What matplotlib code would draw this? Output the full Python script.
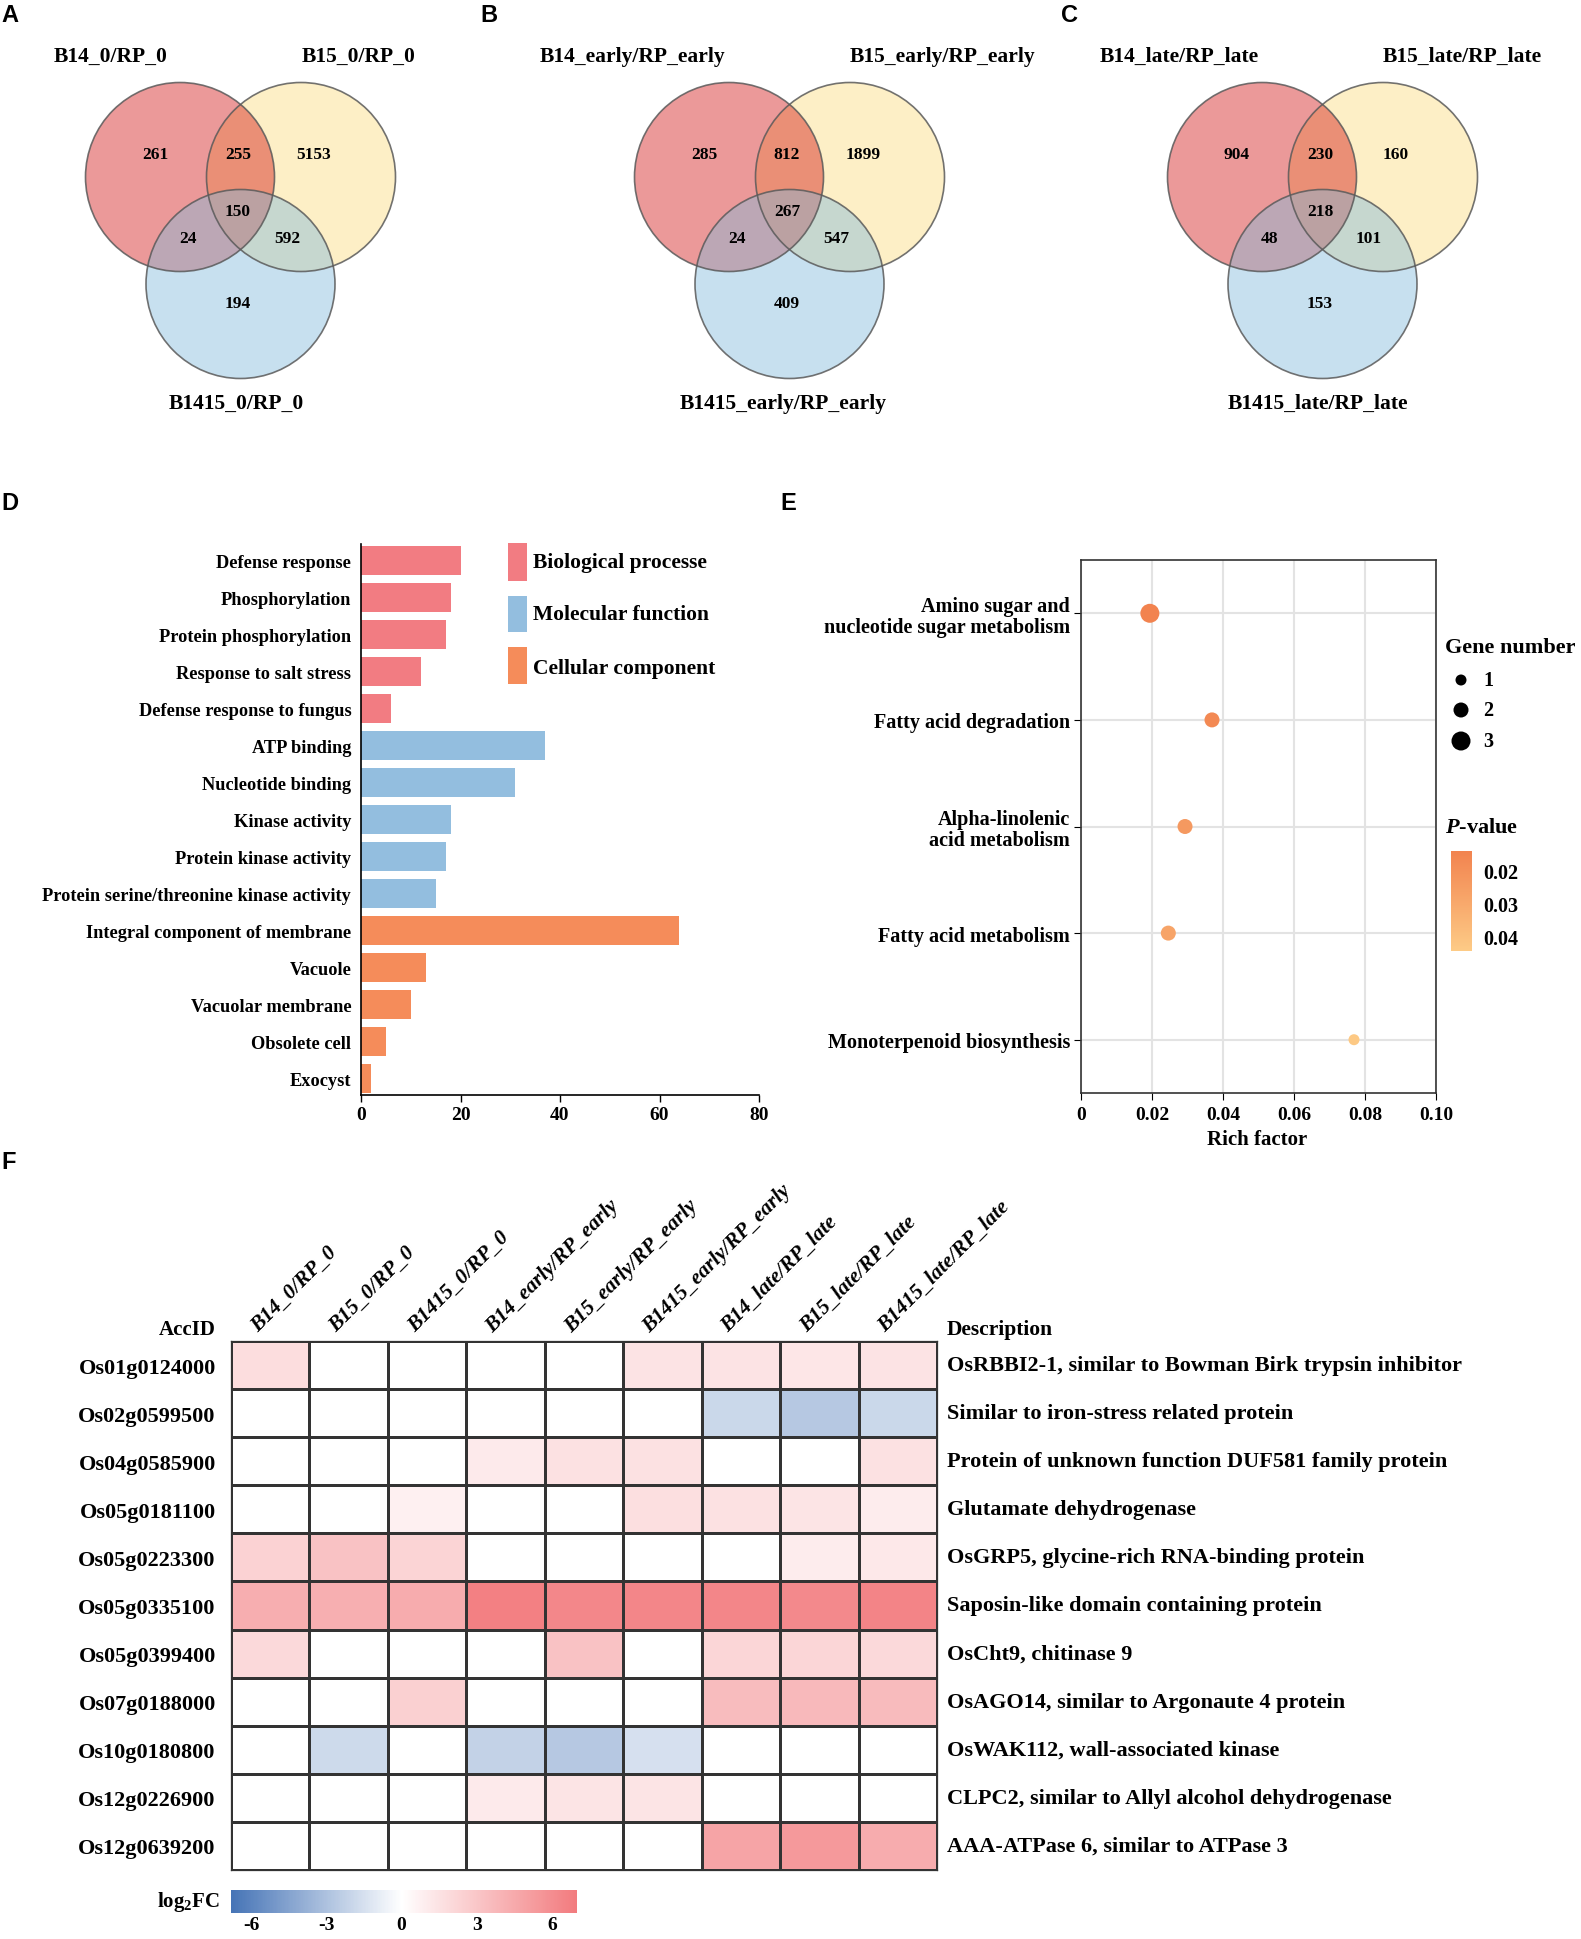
import numpy as np
import matplotlib
matplotlib.use("Agg")
import matplotlib.pyplot as plt
from matplotlib.patches import Circle, Rectangle
from matplotlib.colors import LinearSegmentedColormap, Normalize
from matplotlib.cm import ScalarMappable
from matplotlib.font_manager import FontProperties

plt.rcParams['font.family'] = ['Liberation Serif', 'DejaVu Serif']
plt.rcParams['font.weight'] = 'bold'
plt.rcParams['mathtext.fontset'] = 'custom'
plt.rcParams['mathtext.rm'] = 'Liberation Serif:bold'
plt.rcParams['mathtext.bf'] = 'Liberation Serif:bold'
plt.rcParams['mathtext.it'] = 'Liberation Serif:italic:bold'

# ---------------- data ----------------
venn_names_A = ["B14_0/RP_0", "B15_0/RP_0", "B1415_0/RP_0"]
venn_names_B = ["B14_early/RP_early", "B15_early/RP_early", "B1415_early/RP_early"]
venn_names_C = ["B14_late/RP_late", "B15_late/RP_late", "B1415_late/RP_late"]
# order: only1, 1&2, only2, 1&2&3, 1&3, 2&3, only3
venn_counts_A = [261, 255, 5153, 150, 24, 592, 194]
venn_counts_B = [285, 812, 1899, 267, 24, 547, 409]
venn_counts_C = [904, 230, 160, 218, 48, 101, 153]

go_terms = ["Defense response", "Phosphorylation", "Protein phosphorylation",
            "Response to salt stress", "Defense response to fungus",
            "ATP binding", "Nucleotide binding", "Kinase activity",
            "Protein kinase activity", "Protein serine/threonine kinase activity",
            "Integral component of membrane", "Vacuole", "Vacuolar membrane",
            "Obsolete cell", "Exocyst"]
go_counts = [20, 18, 17, 12, 6, 37, 31, 18, 17, 15, 64, 13, 10, 5, 2]
go_category = ["Biological processe"] * 5 + ["Molecular function"] * 5 + ["Cellular component"] * 5
go_category_names = ["Biological processe", "Molecular function", "Cellular component"]

kegg_terms = ["Amino sugar and\nnucleotide sugar metabolism", "Fatty acid degradation",
              "Alpha-linolenic\nacid metabolism", "Fatty acid metabolism",
              "Monoterpenoid biosynthesis"]
rich_factor = [0.0194, 0.0369, 0.0293, 0.0246, 0.0769]
gene_number = [3, 2, 2, 2, 1]
p_values = [0.0142, 0.0165, 0.0235, 0.0280, 0.0435]
gene_number_legend = [1, 2, 3]
p_ticks = [0.02, 0.03, 0.04]

acc_ids = ["Os01g0124000", "Os02g0599500", "Os04g0585900", "Os05g0181100",
           "Os05g0223300", "Os05g0335100", "Os05g0399400", "Os07g0188000",
           "Os10g0180800", "Os12g0226900", "Os12g0639200"]
comparisons = ["B14_0/RP_0", "B15_0/RP_0", "B1415_0/RP_0",
               "B14_early/RP_early", "B15_early/RP_early", "B1415_early/RP_early",
               "B14_late/RP_late", "B15_late/RP_late", "B1415_late/RP_late"]
descriptions = ["OsRBBI2-1, similar to Bowman Birk trypsin inhibitor",
                "Similar to iron-stress related protein",
                "Protein of unknown function DUF581 family protein",
                "Glutamate dehydrogenase",
                "OsGRP5, glycine-rich RNA-binding protein",
                "Saposin-like domain containing protein",
                "OsCht9, chitinase 9",
                "OsAGO14, similar to Argonaute 4 protein",
                "OsWAK112, wall-associated kinase",
                "CLPC2, similar to Allyl alcohol dehydrogenase",
                "AAA-ATPase 6, similar to ATPase 3"]
log2fc = np.array([
    [1.8, 0, 0, 0, 0, 1.5, 1.5, 1.3, 1.5],
    [0, 0, 0, 0, 0, 0, -1.9, -2.7, -1.9],
    [0, 0, 0, 1.1, 1.6, 1.6, 0, 0, 1.6],
    [0, 0, 0.8, 0, 0, 1.7, 1.6, 1.4, 1.0],
    [2.4, 3.2, 2.3, 0, 0, 0, 0, 1.0, 1.2],
    [4.3, 4.2, 4.4, 6.7, 6.3, 6.4, 6.4, 6.2, 6.5],
    [2.0, 0, 0, 0, 3.2, 0, 2.2, 2.2, 2.0],
    [0, 0, 2.5, 0, 0, 0, 3.5, 3.7, 3.6],
    [0, -1.8, 0, -2.2, -2.7, -1.5, 0, 0, 0],
    [0, 0, 0, 1.1, 1.4, 1.4, 0, 0, 0],
    [0, 0, 0, 0, 0, 0, 4.8, 5.4, 4.4],
])
fc_ticks = [-6, -3, 0, 3, 6]

# ---------------- figure ----------------
W, H = 1581, 1940
fig = plt.figure(figsize=(W / 100, H / 100), dpi=100)


def rect(x0, y0, x1, y1):
    return [x0 / W, 1 - y1 / H, (x1 - x0) / W, (y1 - y0) / H]


ax0 = fig.add_axes([0, 0, 1, 1])
ax0.set_xlim(0, W)
ax0.set_ylim(H, 0)
ax0.axis('off')

# panel letters
for letter, (x, y) in zip("ABCDEF", [(10, 16), (489, 16), (1069, 16), (10, 504), (788, 504), (9, 1163)]):
    ax0.text(x, y, letter, family='Liberation Sans', weight='bold', fontsize=17,
             ha='center', va='center')

# ---------------- Venn diagrams ----------------
R = 94.5
num_off = [(-25, -23), (58, -23), (134, -23), (58, 34), (8, 61), (107, 61), (58, 126)]
venn_panels = [
    (venn_names_A, venn_counts_A, 180, [111, 359, 236]),
    (venn_names_B, venn_counts_B, 729, [632, 942, 783]),
    (venn_names_C, venn_counts_C, 1262, [1179, 1462, 1318]),
]
cy = 178
for names, counts, cx, lx in venn_panels:
    centers = [(cx, cy), (cx + 121, cy), (cx + 60.5, cy + 107)]
    ax0.add_patch(Circle(centers[1], R, facecolor='#FDEFC6', edgecolor='none', zorder=1))
    ax0.add_patch(Circle(centers[0], R, facecolor='#CF0000', alpha=0.4, edgecolor='none', zorder=2))
    ax0.add_patch(Circle(centers[2], R, facecolor='#80B9DB', alpha=0.44, edgecolor='none', zorder=3))
    for c in centers:
        ax0.add_patch(Circle(c, R, facecolor='none', edgecolor='#5a5a5a', lw=1.2, alpha=0.85, zorder=4))
    for val, (dx, dy) in zip(counts, num_off):
        ax0.text(cx + dx, cy + dy, str(val), fontsize=12.5, weight='bold',
                 ha='center', va='center', zorder=5)
    ax0.text(lx[0], 57, names[0], fontsize=15.5, weight='bold', ha='center', va='center')
    ax0.text(lx[1], 57, names[1], fontsize=15.5, weight='bold', ha='center', va='center')
    ax0.text(lx[2], 404, names[2], fontsize=15.5, weight='bold', ha='center', va='center')

# ---------------- Panel D ----------------
cat_colors = {"Biological processe": "#F27C82", "Molecular function": "#93BEDF",
              "Cellular component": "#F58C5A"}
axD = fig.add_axes(rect(361, 545, 759, 1096))
axD.patch.set_visible(False)
ypos = np.arange(len(go_terms))
axD.barh(ypos, go_counts, height=0.79, color=[cat_colors[c] for c in go_category])
axD.set_xlim(0, 80)
axD.set_ylim(len(go_terms) - 0.55, -0.45)
axD.set_yticks(ypos)
axD.set_yticklabels(go_terms, fontsize=13.2, weight='bold')
axD.tick_params(axis='y', length=0, pad=7)
axD.set_xticks([0, 20, 40, 60, 80])
axD.tick_params(axis='x', labelsize=14, length=5, width=1, pad=3)
for t in axD.get_xticklabels():
    t.set_weight('bold')
for s in ['top', 'right']:
    axD.spines[s].set_visible(False)
for s in ['left', 'bottom']:
    axD.spines[s].set_linewidth(1.2)
# legend D
leg_y = [(544, 582), (597, 633), (648, 685)]
leg_ty = [563, 615, 669]
for name, (y0, y1), ty in zip(go_category_names, leg_y, leg_ty):
    ax0.add_patch(Rectangle((508, y0), 19, y1 - y0, facecolor=cat_colors[name], edgecolor='none'))
    ax0.text(533, ty, name, fontsize=15.5, weight='bold', ha='left', va='center')

# ---------------- Panel E ----------------
pcmap = LinearSegmentedColormap.from_list('pv', ['#F2834F', '#FDCB86'])
pnorm = Normalize(0.014, 0.0445)


def dot_size(n):
    return ((7 + 4 * n) * 0.72) ** 2


axE = fig.add_axes(rect(1081, 561, 1436, 1094))
axE.set_xlim(0, 0.1)
axE.set_ylim(len(kegg_terms) - 0.5, -0.5)
axE.set_xticks([0, 0.02, 0.04, 0.06, 0.08, 0.10])
axE.set_xticklabels(['0', '0.02', '0.04', '0.06', '0.08', '0.10'])
axE.set_yticks(np.arange(len(kegg_terms)))
axE.set_yticklabels(kegg_terms, fontsize=14.5, weight='bold', linespacing=1.05)
axE.grid(True, color='#E3E3E3', lw=1.5, zorder=0)
axE.set_axisbelow(True)
axE.scatter(rich_factor, np.arange(len(kegg_terms)), s=[dot_size(n) for n in gene_number],
            c=p_values, cmap=pcmap, norm=pnorm, edgecolors='none', zorder=3)
axE.tick_params(axis='x', labelsize=14, length=5, pad=4)
axE.tick_params(axis='y', length=5, pad=3)
for t in axE.get_xticklabels():
    t.set_weight('bold')
for s in axE.spines.values():
    s.set_color('#333333')
    s.set_linewidth(1.2)
ax0.text(1257, 1140, "Rich factor", fontsize=15, weight='bold', ha='center', va='center')

# gene number legend
ax0.text(1445, 648, "Gene number", fontsize=16, weight='bold', ha='left', va='center')
for n, y in zip(gene_number_legend, [681, 711, 742]):
    ax0.scatter([1461], [y], s=dot_size(n) * 1.0, color='black', edgecolors='none')
    ax0.text(1483, y, str(n), fontsize=14.5, weight='bold', ha='left', va='center')
# p-value colorbar
ax0.text(1445, 828, r"$P$-value", fontsize=16, weight='bold', ha='left', va='center')
caxE = fig.add_axes(rect(1451, 852, 1472, 952))
cbE = fig.colorbar(ScalarMappable(norm=pnorm, cmap=pcmap), cax=caxE, orientation='vertical')
caxE.invert_yaxis()
cbE.set_ticks(p_ticks)
cbE.set_ticklabels(['0.02', '0.03', '0.04'])
cbE.outline.set_visible(False)
caxE.tick_params(length=0, labelsize=14.5, pad=8)
for t in caxE.get_yticklabels():
    t.set_weight('bold')

# ---------------- Panel F heatmap ----------------
hcmap = LinearSegmentedColormap.from_list('fc', [(0, '#4674B6'), (0.493, '#FFFFFF'), (1, '#F27B7E')])
hnorm = Normalize(-6.8, 7.0)
axF = fig.add_axes(rect(231, 1342, 937, 1871))
nr, nc = log2fc.shape
axF.pcolormesh(np.arange(nc + 1), np.arange(nr + 1), log2fc, cmap=hcmap, norm=hnorm,
               edgecolors='#333333', linewidth=0.8)
axF.set_xlim(0, nc)
axF.set_ylim(nr, 0)
axF.set_xticks([])
axF.set_yticks(np.arange(nr) + 0.5)
axF.set_yticklabels(acc_ids, fontsize=16, weight='bold')
axF.tick_params(axis='y', length=0, pad=11)
for s in axF.spines.values():
    s.set_linewidth(0.9)
    s.set_color('#333333')
col_font = FontProperties(family='Liberation Serif', style='italic', weight='bold', size=15.5)
for j, name in enumerate(comparisons):
    axF.text(j + 0.5 - 0.16, -0.187, name, rotation=45, rotation_mode='anchor',
             ha='left', va='baseline', fontproperties=col_font, clip_on=False)
for i, d in enumerate(descriptions):
    axF.text(1.014, i + 0.5, d, transform=axF.get_yaxis_transform(), fontsize=16,
             weight='bold', ha='left', va='center')
ax0.text(216, 1330, "AccID", fontsize=15, weight='bold', ha='right', va='center')
ax0.text(947, 1330, "Description", fontsize=15.5, weight='bold', ha='left', va='center')

caxF = fig.add_axes(rect(231, 1891, 577, 1914))
cbF = fig.colorbar(ScalarMappable(norm=hnorm, cmap=hcmap), cax=caxF, orientation='horizontal')
cbF.set_ticks(fc_ticks)
cbF.set_ticklabels([str(v) for v in fc_ticks])
cbF.outline.set_visible(False)
caxF.tick_params(length=0, labelsize=14, pad=2)
for t in caxF.get_xticklabels():
    t.set_weight('bold')
ax0.text(220, 1902, r"log$_2$FC", fontsize=15, weight='bold', ha='right', va='center')

fig.savefig("out.png", dpi=100)
